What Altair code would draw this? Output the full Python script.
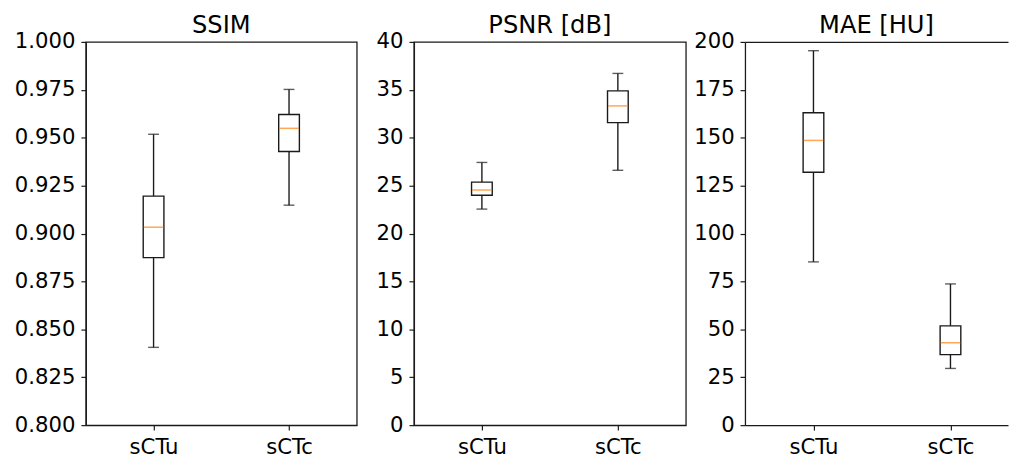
import altair as alt
import pandas as pd

methods = ["sCTu", "sCTc"]
positions = [1, 2]

titles = ["SSIM", "PSNR [dB]", "MAE [HU]"]

ssim_lo = [0.8406, 0.9148]
ssim_q1 = [0.8874, 0.9428]
ssim_med = [0.9033, 0.9549]
ssim_q3 = [0.9195, 0.9621]
ssim_hi = [0.9518, 0.9752]
ssim_ticks = [0.800, 0.825, 0.850, 0.875, 0.900, 0.925, 0.950, 0.975, 1.000]

psnr_lo = [22.55, 26.60]
psnr_q1 = [23.99, 31.57]
psnr_med = [24.54, 33.32]
psnr_q3 = [25.36, 34.89]
psnr_hi = [27.42, 36.71]
psnr_ticks = [0, 5, 10, 15, 20, 25, 30, 35, 40]

mae_lo = [85.2, 29.6]
mae_q1 = [132.0, 36.8]
mae_med = [148.6, 43.0]
mae_q3 = [163.0, 51.8]
mae_hi = [195.4, 73.7]
mae_ticks = [0, 25, 50, 75, 100, 125, 150, 175, 200]

FONT = "DejaVu Sans"
INK = "#1a1a1a"
TICK_FS = 21.5
TITLE_FS = 24.5
label_expr = "['" + "','".join(methods) + "'][datum.value - 1]"


def panel(title, lo, q1, med, q3, hi, ticks, fmt, xmax, width, extent, open_right=False):
    df = pd.DataFrame(dict(method=methods, pos=positions, lo=lo, q1=q1,
                           med=med, q3=q3, hi=hi))
    xscale = alt.Scale(domain=[0.5, xmax], nice=False, zero=False, padding=0)
    xaxis = alt.Axis(values=positions, labelExpr=label_expr, grid=False,
                     tickSize=5, tickColor=INK, domainColor=INK,
                     labelFontSize=TICK_FS, labelFont=FONT, labelColor="black",
                     labelPadding=7, labelFlush=False, labelAngle=0,
                     domainWidth=1.3, tickWidth=1.2, title=None)
    yscale = alt.Scale(domain=[ticks[0], ticks[-1]], nice=False, zero=False, padding=0)
    yaxis = alt.Axis(values=ticks, format=fmt, grid=False,
                     tickSize=5, tickColor=INK, domainColor=INK,
                     labelFontSize=TICK_FS, labelFont=FONT, labelColor="black",
                     labelPadding=6, labelFlush=False,
                     minExtent=extent, maxExtent=extent,
                     domainWidth=1.3, tickWidth=1.2, title=None)

    def X():
        return alt.X("pos:Q", scale=xscale, axis=xaxis, title=None)

    def Y(f):
        return alt.Y(f + ":Q", scale=yscale, axis=yaxis, title=None)

    base = alt.Chart(df)
    main = alt.layer(
        base.mark_rule(color=INK, strokeWidth=1.4).encode(x=X(), y=Y("lo"), y2="q1:Q"),
        base.mark_rule(color=INK, strokeWidth=1.4).encode(x=X(), y=Y("q3"), y2="hi:Q"),
        base.mark_bar(fill="white", stroke=INK, strokeWidth=1.4, size=21).encode(
            x=X(), y=Y("q1"), y2="q3:Q"),
        base.mark_tick(color="#ff7f0e", size=20, thickness=1.5, orient="horizontal").encode(
            x=X(), y=Y("med")),
        base.mark_tick(color=INK, size=11, thickness=1.4, orient="horizontal").encode(
            x=X(), y=Y("lo")),
        base.mark_tick(color=INK, size=11, thickness=1.4, orient="horizontal").encode(
            x=X(), y=Y("hi")),
    )
    tp = alt.TitleParams(title, fontSize=TITLE_FS, font=FONT, fontWeight="normal",
                         color="black", offset=-7, frame="group")
    if open_right:
        top = base.mark_rule(opacity=0).encode(
            x=alt.X("pos:Q", scale=xscale, title=None,
                    axis=alt.Axis(orient="top", labels=False, ticks=False, grid=False,
                                  domainColor=INK, domainWidth=1.3, title=None)),
            y=Y("lo"))
        ch = alt.layer(main, top).resolve_axis(x="independent").properties(
            width=width, height=389, title=tp,
            view=alt.ViewBackground(stroke="transparent"))
    else:
        ch = main.properties(width=width, height=389, title=tp,
                             view=alt.ViewBackground(stroke=INK, strokeWidth=1.3))
    return ch


p1 = panel(titles[0], ssim_lo, ssim_q1, ssim_med, ssim_q3, ssim_hi, ssim_ticks, ".3f",
           2.5, 275, 78)
p2 = panel(titles[1], psnr_lo, psnr_q1, psnr_med, psnr_q3, psnr_hi, psnr_ticks, "d",
           2.5, 276, 50)
p3 = panel(titles[2], mae_lo, mae_q1, mae_med, mae_q3, mae_hi, mae_ticks, "d",
           2.42, 267, 50, open_right=True)

chart = alt.hconcat(p1, p2, p3, spacing=6).properties(
    padding={"left": 0, "top": 0, "right": 0, "bottom": 0}
).configure(background="white")

chart.save("out.html", embed_options={"renderer": "svg", "actions": False})
